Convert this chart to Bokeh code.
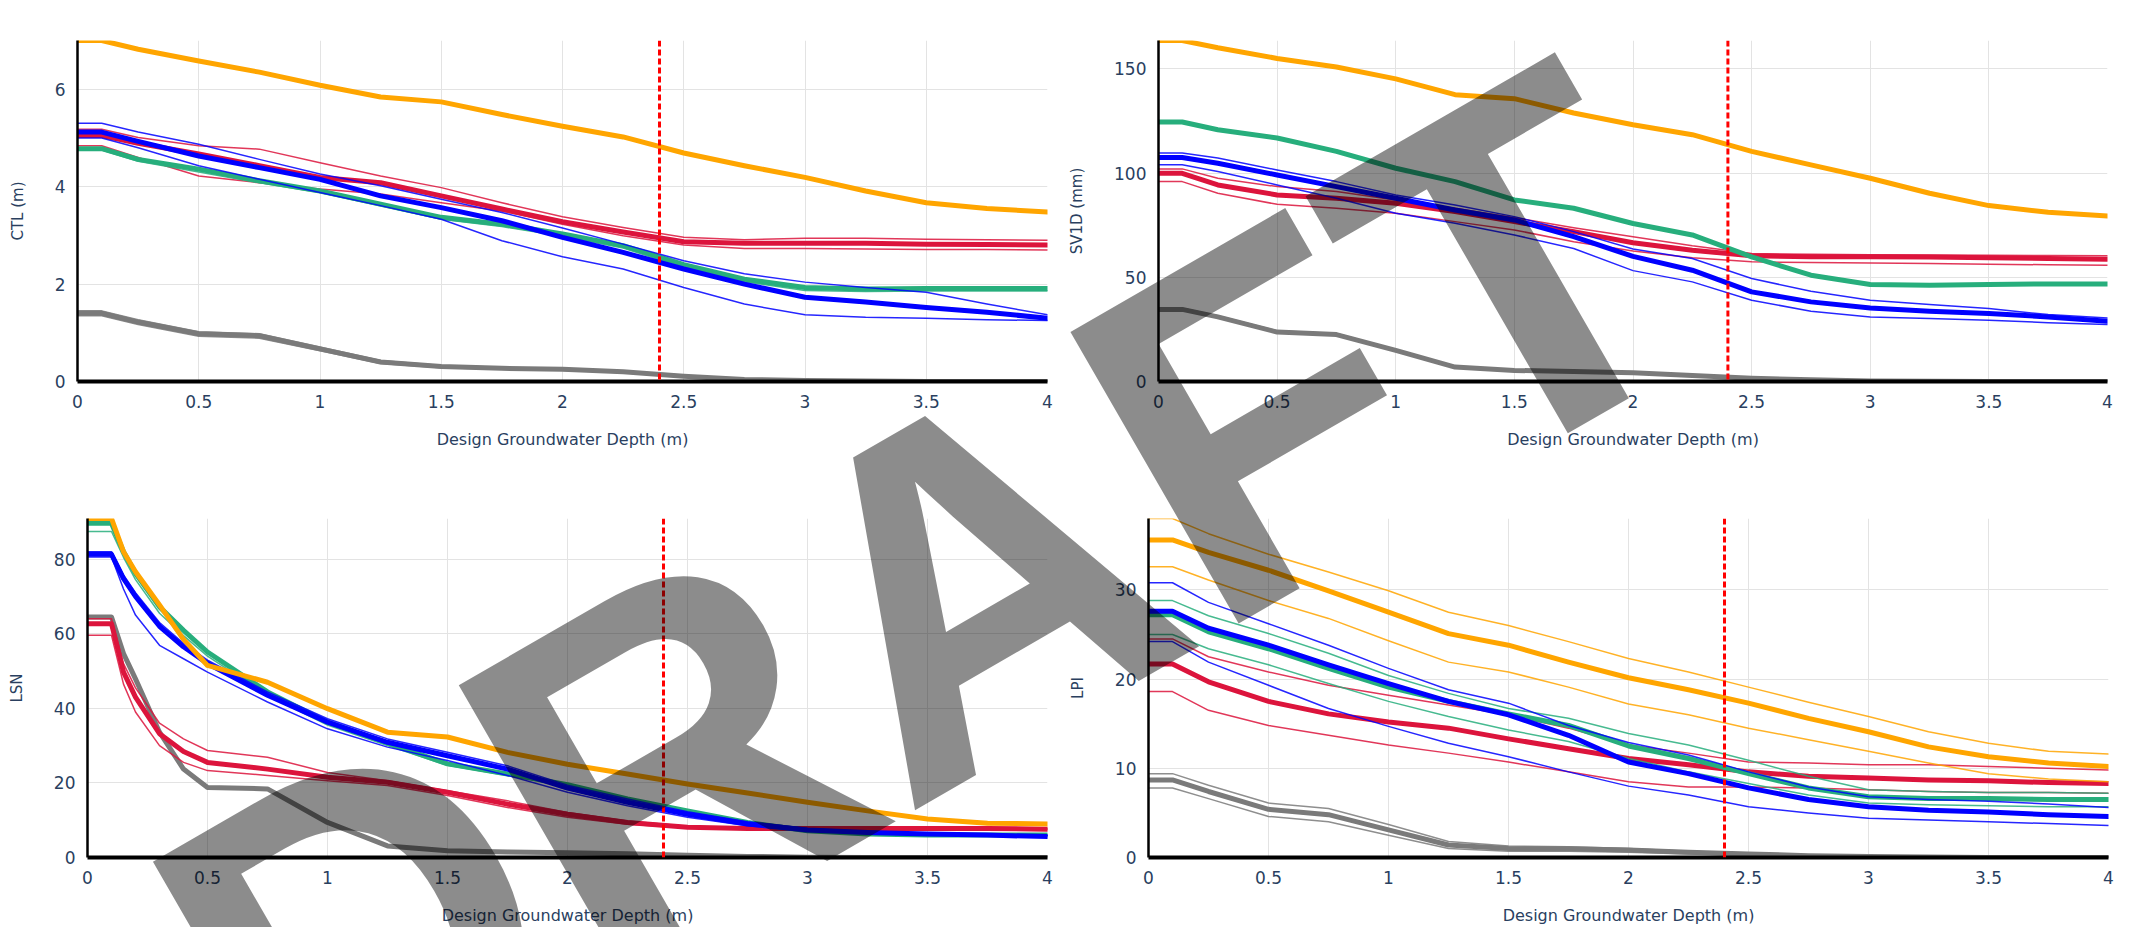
import math
from bokeh.plotting import figure
from bokeh.layouts import column, row
from bokeh.models import Range1d, FixedTicker, Span, Label
from bokeh.embed import file_html
from bokeh.resources import INLINE

# ---------------------------------------------------------------- data
# design groundwater depth (m) sampled for each curve
depth = [0, 0.1, 0.25, 0.5, 0.75, 1.0, 1.25, 1.5, 1.75, 2.0, 2.25, 2.5, 2.75,
         3.0, 3.25, 3.5, 3.75, 4.0]
depth_lsn = [0, 0.1, 0.15, 0.2, 0.3, 0.4, 0.5, 0.75, 1.0, 1.25, 1.5, 1.75, 2.0,
             2.25, 2.5, 2.75, 3.0, 3.25, 3.5, 3.75, 4.0]

x_tick_values = [0, 0.5, 1, 1.5, 2, 2.5, 3, 3.5, 4]
x_tick_labels = ["0", "0.5", "1", "1.5", "2", "2.5", "3", "3.5", "4"]
design_gwd = 2.4

# CTL (m)
ctl_gray = [1.40, 1.40, 1.22, 0.98, 0.94, 0.67, 0.40, 0.31, 0.27, 0.25, 0.20, 0.11, 0.04, 0.02, 0.01, 0.0, 0.0, 0.0]
ctl_gray_hi = [1.45, 1.45, 1.27, 1.02, 0.98, 0.71, 0.43, 0.33, 0.29, 0.27, 0.21, 0.12, 0.05, 0.02, 0.01, 0.0, 0.0, 0.0]
ctl_gray_lo = [1.35, 1.35, 1.17, 0.93, 0.89, 0.63, 0.37, 0.28, 0.25, 0.23, 0.18, 0.10, 0.03, 0.01, 0.0, 0.0, 0.0, 0.0]
ctl_red = [5.05, 5.05, 4.89, 4.67, 4.43, 4.19, 4.08, 3.81, 3.54, 3.28, 3.07, 2.87, 2.84, 2.84, 2.84, 2.82, 2.81, 2.80]
ctl_red_hi = [5.18, 5.18, 5.01, 4.84, 4.77, 4.49, 4.22, 3.98, 3.67, 3.38, 3.16, 2.96, 2.91, 2.94, 2.94, 2.92, 2.91, 2.90]
ctl_red_lo = [4.84, 4.84, 4.60, 4.22, 4.08, 3.95, 3.85, 3.67, 3.50, 3.23, 2.99, 2.80, 2.73, 2.73, 2.72, 2.71, 2.71, 2.70]
ctl_green = [4.78, 4.78, 4.56, 4.36, 4.12, 3.91, 3.64, 3.37, 3.23, 3.03, 2.79, 2.40, 2.10, 1.93, 1.90, 1.91, 1.91, 1.91]
ctl_green_lo = [4.75, 4.75, 4.52, 4.30, 4.08, 3.88, 3.60, 3.33, 3.18, 2.98, 2.74, 2.34, 2.05, 1.87, 1.85, 1.86, 1.86, 1.86]
ctl_blue = [5.12, 5.12, 4.93, 4.63, 4.39, 4.15, 3.81, 3.57, 3.30, 2.96, 2.65, 2.31, 2.00, 1.73, 1.63, 1.52, 1.42, 1.30]
ctl_blue_hi = [5.30, 5.30, 5.12, 4.87, 4.56, 4.26, 4.02, 3.74, 3.47, 3.15, 2.82, 2.48, 2.21, 2.04, 1.93, 1.83, 1.59, 1.37]
ctl_blue_lo = [5.00, 5.00, 4.80, 4.43, 4.15, 3.88, 3.61, 3.33, 2.89, 2.56, 2.31, 1.93, 1.59, 1.37, 1.32, 1.30, 1.27, 1.25]
ctl_orange = [7.00, 7.00, 6.82, 6.58, 6.35, 6.08, 5.84, 5.74, 5.48, 5.24, 5.02, 4.69, 4.43, 4.19, 3.91, 3.67, 3.55, 3.48]

# SV1D (mm)
sv_gray = [34.6, 34.6, 31.0, 23.7, 22.5, 14.9, 6.9, 5.3, 4.8, 4.2, 2.9, 1.6, 0.8, 0.3, 0.1, 0.0, 0.0, 0.0]
sv_gray_hi = [35.2, 35.2, 31.6, 24.3, 23.0, 15.4, 7.3, 5.6, 5.1, 4.5, 3.1, 1.8, 0.9, 0.4, 0.1, 0.0, 0.0, 0.0]
sv_red = [99.9, 99.9, 94.3, 89.5, 87.9, 85.5, 81.5, 76.7, 71.9, 66.6, 63.0, 60.3, 59.8, 59.8, 59.7, 59.4, 59.0, 58.7]
sv_red_hi = [102.0, 102.0, 97.5, 93.5, 91.1, 87.1, 83.1, 78.6, 73.8, 69.5, 65.1, 61.4, 61.0, 60.8, 60.7, 60.6, 60.4, 60.3]
sv_red_lo = [95.9, 95.9, 90.3, 85.0, 83.1, 80.7, 76.7, 72.7, 67.1, 62.6, 59.4, 57.4, 57.1, 56.9, 56.6, 56.3, 56.0, 55.8]
sv_green = [124.5, 124.5, 120.8, 116.8, 110.4, 102.3, 95.9, 87.1, 83.1, 75.8, 70.3, 59.8, 51.0, 46.5, 46.2, 46.5, 46.8, 46.8]
sv_blue = [107.5, 107.5, 104.7, 99.1, 93.5, 87.9, 82.3, 77.5, 69.5, 60.0, 53.4, 43.0, 38.2, 35.3, 33.7, 32.6, 31.0, 28.9]
sv_blue_hi = [109.6, 109.6, 107.2, 101.5, 95.9, 89.5, 84.7, 79.1, 71.9, 63.6, 59.0, 49.4, 43.3, 39.0, 36.9, 35.0, 32.1, 30.5]
sv_blue_lo = [104.0, 104.0, 100.7, 94.3, 87.9, 80.7, 75.9, 70.3, 63.8, 53.2, 47.8, 39.0, 33.7, 31.0, 30.2, 29.4, 28.2, 27.3]
sv_orange = [163.6, 163.6, 160.1, 155.0, 150.9, 145.2, 137.6, 135.7, 128.8, 123.2, 118.4, 110.4, 103.9, 97.5, 90.3, 84.4, 81.2, 79.4]

# LSN
lsn_gray = [64.5, 64.5, 54.7, 47.9, 33.6, 23.7, 18.8, 18.4, 9.4, 3.1, 1.8, 1.5, 1.3, 1.0, 0.6, 0.3, 0.1, 0.0, 0.0, 0.0, 0.0]
lsn_red = [62.7, 62.7, 49.7, 43.0, 33.2, 28.4, 25.5, 23.7, 21.5, 20.2, 17.5, 14.3, 11.6, 9.4, 8.1, 7.8, 7.8, 7.8, 7.8, 7.8, 7.6]
lsn_red_hi = [64.0, 64.0, 52.0, 45.5, 36.0, 31.8, 28.7, 26.9, 22.8, 20.6, 17.9, 15.2, 12.1, 9.8, 8.4, 8.0, 7.9, 7.9, 7.9, 7.8, 7.8]
lsn_red_lo = [59.6, 59.6, 46.5, 39.0, 30.0, 25.5, 23.3, 22.0, 20.6, 19.3, 16.6, 13.4, 10.8, 8.9, 7.9, 7.6, 7.6, 7.6, 7.5, 7.5, 7.5]
lsn_green = [89.6, 89.6, 82.0, 76.2, 67.2, 60.9, 55.1, 44.4, 36.3, 30.7, 25.1, 22.4, 19.5, 15.7, 12.5, 9.4, 7.2, 6.3, 6.0, 6.0, 6.0]
lsn_green_lo = [87.4, 87.4, 80.5, 74.5, 65.5, 59.5, 54.0, 43.5, 35.5, 30.0, 24.7, 22.0, 19.2, 15.4, 12.2, 9.2, 7.0, 6.2, 5.9, 5.9, 5.9]
lsn_blue = [81.3, 81.3, 74.8, 70.0, 62.0, 56.5, 52.0, 43.5, 36.3, 30.9, 27.3, 23.7, 18.6, 14.8, 11.6, 9.0, 7.4, 6.7, 6.3, 6.0, 5.6]
lsn_blue_hi = [82.0, 82.0, 75.8, 71.0, 63.0, 57.4, 52.9, 44.4, 37.2, 31.8, 28.2, 24.6, 19.4, 15.7, 12.3, 9.6, 7.8, 7.0, 6.6, 6.3, 5.9]
lsn_blue_lo = [80.6, 80.6, 72.0, 65.0, 56.9, 53.3, 49.7, 41.7, 34.5, 29.6, 26.0, 22.0, 17.5, 13.9, 10.8, 8.5, 7.2, 6.7, 6.4, 6.1, 5.9]
lsn_orange = [90.9, 90.9, 82.0, 76.6, 67.7, 58.5, 51.5, 47.0, 39.9, 33.6, 32.3, 28.2, 25.0, 22.4, 19.7, 17.3, 14.8, 12.5, 10.3, 9.2, 9.0]

# LPI
lpi_gray = [8.7, 8.7, 7.4, 5.4, 4.8, 3.1, 1.4, 1.0, 0.97, 0.85, 0.6, 0.4, 0.2, 0.1, 0.05, 0.0, 0.0, 0.0]
lpi_gray_hi = [9.4, 9.4, 8.1, 6.1, 5.5, 3.7, 1.8, 1.3, 1.2, 1.0, 0.7, 0.5, 0.3, 0.1, 0.05, 0.0, 0.0, 0.0]
lpi_gray_lo = [7.8, 7.8, 6.6, 4.6, 4.0, 2.5, 1.0, 0.7, 0.7, 0.6, 0.4, 0.3, 0.1, 0.05, 0.0, 0.0, 0.0, 0.0]
lpi_red = [21.7, 21.7, 19.7, 17.5, 16.1, 15.2, 14.5, 13.3, 12.2, 11.1, 10.4, 9.6, 9.1, 8.9, 8.7, 8.6, 8.4, 8.3]
lpi_red_hi = [24.5, 24.5, 22.5, 20.8, 19.3, 18.2, 17.1, 16.0, 14.5, 12.6, 11.7, 10.7, 10.6, 10.4, 10.4, 10.2, 10.0, 9.8]
lpi_red_lo = [18.6, 18.6, 16.5, 14.8, 13.7, 12.6, 11.7, 10.7, 9.6, 8.5, 7.9, 7.9, 7.8, 7.6, 7.4, 7.3, 7.3, 7.2]
lpi_green = [27.2, 27.2, 25.3, 23.4, 21.2, 19.1, 17.5, 16.1, 14.8, 12.5, 11.1, 9.4, 7.8, 6.8, 6.6, 6.6, 6.5, 6.5]
lpi_green_hi = [28.8, 28.8, 27.1, 25.1, 22.9, 20.4, 18.4, 16.7, 15.6, 13.9, 12.6, 10.9, 9.1, 7.6, 7.4, 7.3, 7.3, 7.2]
lpi_green_lo = [25.0, 25.0, 23.4, 21.6, 19.5, 17.5, 15.8, 14.3, 13.0, 11.1, 9.6, 8.3, 7.0, 6.1, 5.9, 5.8, 5.7, 5.7]
lpi_blue = [27.6, 27.6, 25.7, 23.8, 21.6, 19.5, 17.5, 16.0, 13.7, 10.7, 9.4, 7.8, 6.5, 5.7, 5.3, 5.1, 4.8, 4.6]
lpi_blue_hi = [30.8, 30.8, 28.6, 26.2, 23.8, 21.2, 18.8, 17.3, 14.8, 12.9, 11.5, 9.6, 7.9, 6.8, 6.5, 6.3, 6.0, 5.6]
lpi_blue_lo = [24.2, 24.2, 21.9, 19.3, 16.7, 14.7, 12.8, 11.3, 9.6, 8.0, 7.0, 5.7, 5.0, 4.4, 4.2, 4.0, 3.8, 3.6]
lpi_orange = [35.6, 35.6, 34.2, 32.2, 29.9, 27.5, 25.1, 23.8, 21.9, 20.15, 18.8, 17.3, 15.6, 14.1, 12.4, 11.3, 10.6, 10.2]
lpi_orange_hi = [38.0, 38.0, 36.3, 34.0, 32.0, 29.9, 27.5, 26.0, 24.2, 22.3, 20.8, 19.1, 17.4, 15.8, 14.1, 12.8, 11.9, 11.6]
lpi_orange_lo = [32.6, 32.6, 31.1, 28.8, 26.8, 24.3, 21.9, 20.8, 19.1, 17.2, 16.0, 14.5, 13.2, 11.9, 10.6, 9.4, 8.8, 8.5]

# ---------------------------------------------------------------- style
FONT = "DejaVu Sans"
INK = "#2a3f5f"
COL = {"gray": "#7a7a7a", "red": "#dc143c", "green": "#27ae7c",
       "blue": "#0000ff", "orange": "#ffa500"}
THICK, THIN = 5, 1.5
PAGE_W, PAGE_H = 2130, 927


def series(color, base, variants=()):
    out = [(color, THIN, v) for v in variants]
    out.append((color, THICK, base))
    return out


panels = [
    dict(title="CTL response to GWD", ylabel="CTL (m)", xs=depth,
         yticks=[0, 2, 4, 6],
         lines=(series("gray", ctl_gray, [ctl_gray_hi, ctl_gray_lo])
                + series("red", ctl_red, [ctl_red_hi, ctl_red_lo])
                + series("green", ctl_green, [ctl_green_lo])
                + series("blue", ctl_blue, [ctl_blue_hi, ctl_blue_lo])
                + series("orange", ctl_orange)),
         origin=(0, 0), border=(77, 18, 40, 82), frame=(970, 341),
         title_at=(593, 19)),
    dict(title="SV1D response to GWD", ylabel="SV1D (mm)", xs=depth,
         yticks=[0, 50, 100, 150],
         lines=(series("gray", sv_gray, [sv_gray_hi])
                + series("red", sv_red, [sv_red_hi, sv_red_lo])
                + series("green", sv_green)
                + series("blue", sv_blue, [sv_blue_hi, sv_blue_lo])
                + series("orange", sv_orange)),
         origin=(1065, 0), border=(91, 25, 40, 82), frame=(949, 341),
         title_at=(1650, 19)),
    dict(title="LSN response to GWD", ylabel="LSN", xs=depth_lsn,
         yticks=[0, 20, 40, 60, 80],
         lines=(series("gray", lsn_gray)
                + series("red", lsn_red, [lsn_red_hi, lsn_red_lo])
                + series("green", lsn_green, [lsn_green_lo])
                + series("blue", lsn_blue, [lsn_blue_hi, lsn_blue_lo])
                + series("orange", lsn_orange)),
         origin=(0, 463), border=(87, 18, 55, 70), frame=(960, 339),
         title_at=(592, 496)),
    dict(title="LPI response to GWD", ylabel="LPI", xs=depth,
         yticks=[0, 10, 20, 30],
         lines=(series("gray", lpi_gray, [lpi_gray_hi, lpi_gray_lo])
                + series("red", lpi_red, [lpi_red_hi, lpi_red_lo])
                + series("green", lpi_green, [lpi_green_hi, lpi_green_lo])
                + series("blue", lpi_blue, [lpi_blue_hi, lpi_blue_lo])
                + series("orange", lpi_orange, [lpi_orange_hi, lpi_orange_lo])),
         origin=(1065, 463), border=(79, 26, 55, 70), frame=(960, 339),
         title_at=(1650, 496)),
]

# watermark: centre on the page (px), rotation (deg), size (px)
WM_TEXT = "DRAFT"
WM_CENTER = (925, 608)
WM_ANGLE = 30
WM_SIZE = 489


def build(cfg):
    xs = cfg["xs"]
    bl, br, bt, bb = cfg["border"]
    fw, fh = cfg["frame"]
    ox, oy = cfg["origin"]
    all_y = [v for _, _, vals in cfg["lines"] for v in vals]
    x0, x1 = min(xs), max(xs)
    y0, y1 = min(all_y), max(all_y)

    p = figure(frame_width=fw, frame_height=fh,
               min_border_left=bl, min_border_right=br,
               min_border_top=bt, min_border_bottom=bb,
               x_range=Range1d(x0, x1), y_range=Range1d(y0, y1),
               output_backend="svg", toolbar_location=None, tools="")
    p.outline_line_color = None
    p.background_fill_color = "white"
    p.border_fill_color = "white"

    # page pixel -> data coordinates of this panel
    fl, ft = ox + bl, oy + bt

    def to_data(px, py):
        return (x0 + (px - fl) / fw * (x1 - x0),
                y1 - (py - ft) / fh * (y1 - y0))

    for color, width, vals in cfg["lines"]:
        p.line(xs, vals, line_color=COL[color], line_width=width,
               line_alpha=1.0 if width == THICK else 0.85,
               line_join="round", line_cap="round")

    p.add_layout(Span(location=design_gwd, dimension="height",
                      line_color="red", line_dash="6 3", line_width=3))

    for ax in (p.xaxis, p.yaxis):
        ax.major_tick_line_color = None
        ax.minor_tick_line_color = None
        ax.axis_line_color = "black"
        ax.major_label_text_font = FONT
        ax.major_label_text_font_size = "17px"
        ax.major_label_text_color = INK
        ax.axis_label_text_font = FONT
        ax.axis_label_text_font_style = "normal"
        ax.axis_label_text_color = INK
    p.xaxis.axis_line_width = 4
    p.yaxis.axis_line_width = 2.5
    p.xaxis.ticker = FixedTicker(ticks=x_tick_values)
    p.xaxis.major_label_overrides = dict(zip(x_tick_values, x_tick_labels))
    p.yaxis.ticker = FixedTicker(ticks=cfg["yticks"])
    p.xaxis.axis_label = "Design Groundwater Depth (m)"
    p.yaxis.axis_label = cfg["ylabel"]
    p.xaxis.axis_label_text_font_size = "16px"
    p.yaxis.axis_label_text_font_size = "15px"
    p.xaxis.major_label_standoff = 7
    p.xaxis.axis_label_standoff = 19
    p.yaxis.major_label_standoff = 6
    p.yaxis.axis_label_standoff = 25

    p.xgrid.ticker = FixedTicker(ticks=x_tick_values)
    p.ygrid.ticker = FixedTicker(ticks=cfg["yticks"])
    for g in (p.xgrid, p.ygrid):
        g.grid_line_color = "#e3e3e3"
        g.grid_line_width = 1

    tx, ty = to_data(*cfg["title_at"])
    p.add_layout(Label(x=tx, y=ty, text=cfg["title"], text_align="center",
                       text_baseline="middle", text_font=FONT,
                       text_font_size="20px", text_font_style="bold",
                       text_color=INK))
    return p


figs = [build(c) for c in panels]

# transparent page-sized layer carrying the watermark above all four panels
wm = figure(width=PAGE_W, height=PAGE_H, min_border=0,
            x_range=Range1d(0, PAGE_W), y_range=Range1d(PAGE_H, 0),
            x_axis_location=None, y_axis_location=None,
            output_backend="svg", toolbar_location=None, tools="")
wm.grid.visible = False
wm.outline_line_color = None
wm.background_fill_color = None
wm.border_fill_color = None
wm.add_layout(Label(x=WM_CENTER[0], y=WM_CENTER[1], text=WM_TEXT,
                    angle=math.radians(WM_ANGLE),
                    text_align="center", text_baseline="middle",
                    text_font="Liberation Sans", text_font_style="bold",
                    text_font_size=f"{WM_SIZE}px", text_color="black",
                    text_alpha=0.45))
wm.styles = {"position": "absolute", "left": "0px", "top": "0px",
             "z-index": "10", "pointer-events": "none"}

layout = column(row(figs[0], figs[1]), row(figs[2], figs[3]), wm)

open("out.html", "w").write(file_html(layout, INLINE))
